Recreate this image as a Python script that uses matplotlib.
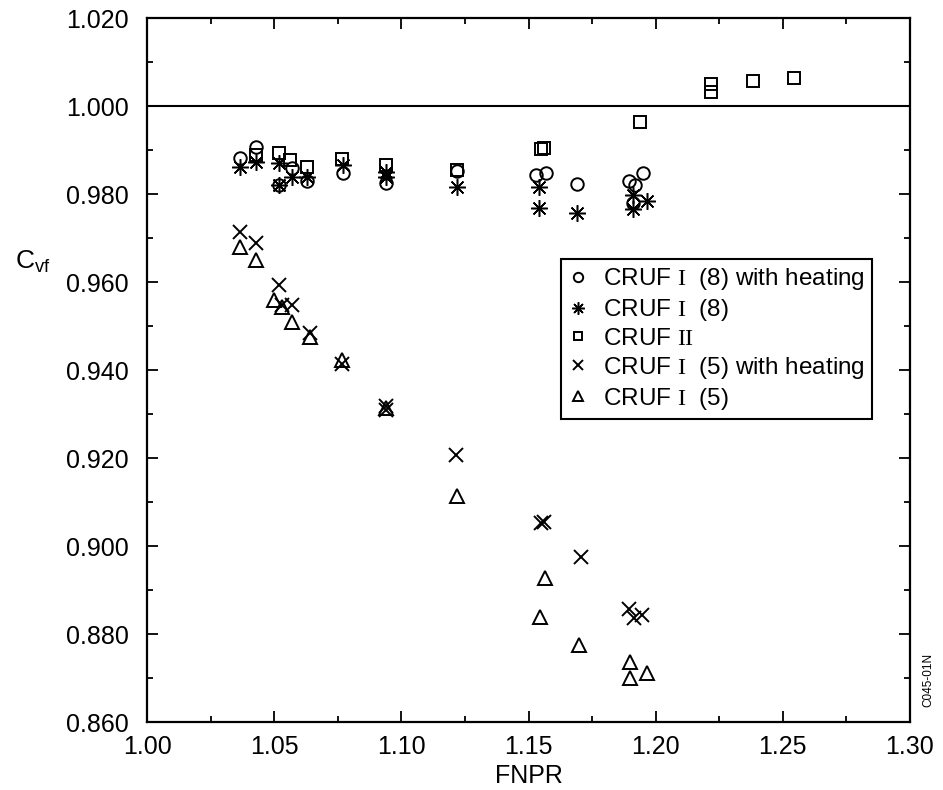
import numpy as np
from matplotlib import pyplot as plt
from matplotlib.ticker import MultipleLocator, FormatStrFormatter

plt.rcParams['font.family'] = ['Liberation Sans', 'DejaVu Sans']
plt.rcParams['mathtext.fontset'] = 'custom'
plt.rcParams['mathtext.rm'] = 'Liberation Serif'
plt.rcParams['mathtext.sf'] = 'Liberation Sans'

# CRUF I (8) with heating - krugovi
x_kr = [1.0365, 1.043, 1.052, 1.057, 1.063, 1.077, 1.094, 1.122, 1.153, 1.157,
        1.169, 1.1894, 1.192, 1.195, 1.191]
y_kr = [0.9882, 0.9907, 0.9820, 0.9860, 0.9830, 0.9848, 0.9825, 0.9852, 0.9843, 0.9848,
        0.9822, 0.9830, 0.9820, 0.9848, 0.9780]

# CRUF I (8) - zvezdice
x_zv = [1.0365, 1.043, 1.052, 1.052, 1.057, 1.063, 1.077, 1.094, 1.094, 1.122,
        1.154, 1.154, 1.169, 1.191, 1.1965, 1.191]
y_zv = [0.9861, 0.9873, 0.9870, 0.9820, 0.9839, 0.9840, 0.9866, 0.9850, 0.9840, 0.9816,
        0.9816, 0.9768, 0.9757, 0.9798, 0.9784, 0.9766]

# CRUF II - kvadrati
x_kv = [1.043, 1.052, 1.056, 1.063, 1.0765, 1.094, 1.122, 1.155, 1.156, 1.194,
        1.2216, 1.2216, 1.2384, 1.2545]
y_kv = [0.9890, 0.9893, 0.9877, 0.9861, 0.9880, 0.9866, 0.9855, 0.9902, 0.9905, 0.9964,
        1.0050, 1.0032, 1.0057, 1.0064]

# CRUF I (5) with heating - iksevi
x_ix = [1.0365, 1.043, 1.052, 1.053, 1.057, 1.064, 1.0765, 1.094, 1.094, 1.1216,
        1.155, 1.156, 1.1706, 1.1894, 1.1914, 1.1945]
y_ix = [0.9714, 0.9689, 0.9593, 0.9548, 0.9548, 0.9484, 0.9415, 0.9318, 0.9310, 0.9207,
        0.9052, 0.9055, 0.8975, 0.8857, 0.8836, 0.8843]

# CRUF I (5) - trouglovi
x_tr = [1.0365, 1.043, 1.050, 1.053, 1.057, 1.064, 1.0765, 1.094, 1.122, 1.1565,
        1.1545, 1.1698, 1.190, 1.190, 1.1965]
y_tr = [0.9680, 0.9650, 0.9560, 0.9543, 0.9509, 0.9475, 0.9423, 0.9315, 0.9114, 0.8927,
        0.8839, 0.8775, 0.8736, 0.8700, 0.8711]

oznake = [r"CRUF $\mathrm{I}$  (8) with heating",
          r"CRUF $\mathrm{I}$  (8)",
          r"CRUF $\mathrm{II}$",
          r"CRUF $\mathrm{I}$  (5) with heating",
          r"CRUF $\mathrm{I}$  (5)"]

fig = plt.figure(figsize=(9.43, 7.9), dpi=100)
ax = fig.add_axes([0.156, 0.086, 0.809, 0.891])

stil = dict(linestyle='none', color='k', markerfacecolor='none', markeredgewidth=1.4)
ax.plot(x_kr, y_kr, marker='o', markersize=9, label=oznake[0], **stil)
ax.plot(x_zv, y_zv, marker=(8, 2, 0), markersize=12, label=oznake[1],
        linestyle='none', color='k', markeredgewidth=1.1)
ax.plot(x_kv, y_kv, marker='s', markersize=8.5, label=oznake[2], **stil)
ax.plot(x_ix, y_ix, marker='x', markersize=9.5, label=oznake[3], **stil)
ax.plot(x_tr, y_tr, marker='^', markersize=9.5, label=oznake[4], **stil)

ax.axhline(1.0, color='k', linewidth=1.5)

ax.set_xlim(1.0, 1.3)
ax.set_ylim(0.86, 1.02)
ax.xaxis.set_major_locator(MultipleLocator(0.05))
ax.xaxis.set_minor_locator(MultipleLocator(0.025))
ax.yaxis.set_major_locator(MultipleLocator(0.02))
ax.yaxis.set_minor_locator(MultipleLocator(0.01))
ax.xaxis.set_major_formatter(FormatStrFormatter('%.2f'))
ax.yaxis.set_major_formatter(FormatStrFormatter('%.3f'))
ax.tick_params(which='both', direction='in', top=True, right=True, width=1.3, labelsize=18)
ax.tick_params(which='major', length=8)
ax.tick_params(which='minor', length=4.5)
ax.tick_params(axis='x', pad=9)
ax.tick_params(axis='y', pad=13)
for s in ax.spines.values():
    s.set_linewidth(1.6)

ax.set_xlabel("FNPR", fontsize=18, labelpad=4)
ax.set_ylabel(r"C$_{\mathsf{vf}}$", fontsize=19, rotation=0)
ax.yaxis.set_label_coords(-0.15, 0.635)

leg = ax.legend(loc='upper left', bbox_to_anchor=(0.543, 0.658), borderaxespad=0,
                fontsize=17.5, markerscale=0.75, handlelength=0.8, handletextpad=0.6,
                labelspacing=0.2, borderpad=0.3, fancybox=False, framealpha=1)
leg.get_frame().set_edgecolor('k')
leg.get_frame().set_linewidth(1.5)

fig.text(0.984, 0.139, "C045-01N", rotation=90, fontsize=8.5, ha='center', va='center')

fig.savefig("out.png", dpi=100)
